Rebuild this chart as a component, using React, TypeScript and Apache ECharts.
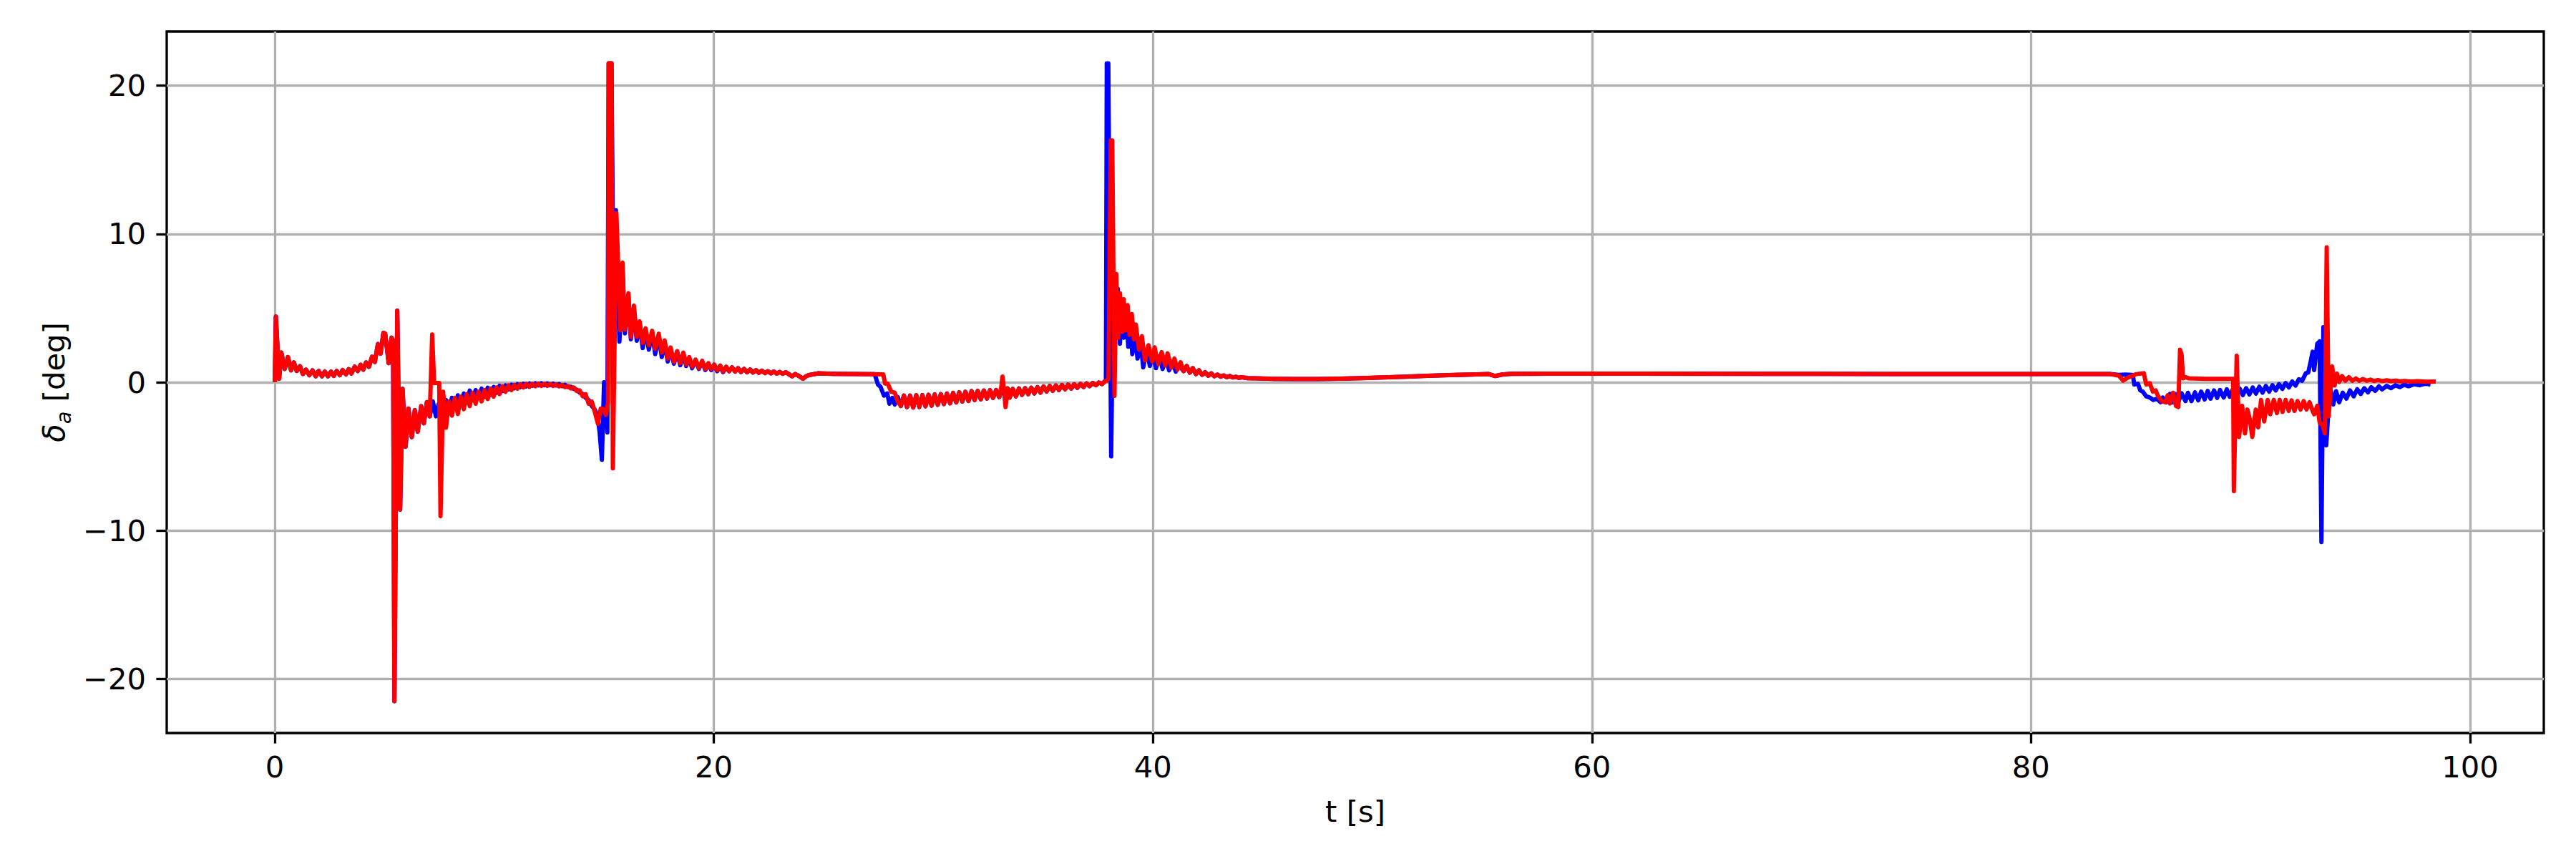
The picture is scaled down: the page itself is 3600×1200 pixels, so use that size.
import React, { useEffect, useRef } from "react";
import * as echarts from "echarts";

// ---- axis ticks / ranges ----
const xTicks = [0, 20, 40, 60, 80, 100];
const yTicks = [-20, -10, 0, 10, 20];
const xRange = [-4.922, 103.36];
const yRange = [-23.65, 23.65];

// ---- data segments: [t (s), delta_a (deg)] ----
// identical for both signals
const sharedStart: number[][] = [
  [0, 0], [0.05, 4.43], [0.2, 0.24], [0.3, 2.0], [0.45, 0.9], [0.6, 1.7], [0.74, 0.8], [0.87, 1.34],
  [1.0, 0.76], [1.15, 1.08], [1.28, 0.56], [1.42, 0.85], [1.57, 0.48], [1.72, 0.8], [1.86, 0.4],
  [2.0, 0.76], [2.15, 0.4], [2.28, 0.72], [2.42, 0.4], [2.56, 0.72], [2.69, 0.43], [2.82, 0.76],
  [2.96, 0.48], [3.09, 0.82], [3.24, 0.53], [3.37, 0.89], [3.49, 0.6], [3.64, 1.05], [3.78, 0.76],
  [3.91, 1.18], [4.03, 0.85], [4.16, 1.34], [4.29, 1.05], [4.43, 1.72], [4.56, 1.37], [4.7, 2.58],
  [4.82, 1.93], [4.95, 3.33], [5.03, 3.27], [5.19, 1.29], [5.32, 3.0], [5.39, 2.8], [5.45, -21.5],
  [5.58, 4.83], [5.71, -8.58], [5.82, -0.45], [5.96, -4.35], [6.09, -1.77], [6.24, -3.7], [6.38, -1.88],
  [6.51, -3.33], [6.67, -1.61], [6.79, -2.77], [6.93, -1.34], [7.06, -2.3],
];

const redSeg2: number[][] = [
  [7.17, 3.22], [7.26, -0.05], [7.49, -0.05], [7.55, -9.02], [7.67, -0.64], [7.8, -3.06], [7.93, -1.29],
  [8.07, -2.25], [8.2, -1.05], [8.34, -2.14], [8.47, -0.97], [8.61, -1.82], [8.74, -0.8], [8.88, -1.61],
  [9.01, -0.72], [9.15, -1.45], [9.28, -0.64], [9.42, -1.29], [9.55, -0.53], [9.7, -1.13], [9.83, -0.43],
  [9.97, -0.97], [10.1, -0.35], [10.24, -0.8], [10.37, -0.27], [10.51, -0.64], [10.64, -0.21],
  [10.78, -0.53], [10.91, -0.18], [11.05, -0.43], [11.18, -0.14], [11.32, -0.35], [11.45, -0.11],
  [11.6, -0.31], [11.73, -0.1], [11.87, -0.27], [12.0, -0.09], [12.14, -0.25], [12.27, -0.1],
  [12.41, -0.24], [12.54, -0.11], [12.68, -0.25], [12.81, -0.14], [12.95, -0.28], [13.08, -0.18],
  [13.22, -0.33], [13.35, -0.25], [13.49, -0.42], [13.62, -0.35], [13.76, -0.6], [13.89, -0.55],
  [14.03, -0.95], [14.16, -0.8], [14.3, -1.45], [14.44, -1.3], [14.58, -2.0], [14.72, -2.8],
  [14.85, -1.77], [14.96, -1.8], [15.09, -2.2], [15.18, -1.4],
];

const blueSeg2: number[][] = [
  [7.2, -1.29], [7.34, -2.3], [7.47, -1.45], [7.63, -2.0], [7.8, -1.2], [7.93, -1.85], [8.07, -1.05],
  [8.2, -1.7], [8.34, -0.88], [8.47, -1.53], [8.61, -0.76], [8.75, -1.37], [8.88, -0.56], [9.01, -1.2],
  [9.15, -0.53], [9.28, -1.05], [9.42, -0.43], [9.55, -0.97], [9.7, -0.37], [9.83, -0.85], [9.97, -0.32],
  [10.1, -0.72], [10.24, -0.24], [10.37, -0.6], [10.51, -0.21], [10.64, -0.48], [10.78, -0.16],
  [10.91, -0.4], [11.05, -0.13], [11.18, -0.33], [11.32, -0.1], [11.45, -0.28], [11.6, -0.08],
  [11.73, -0.24], [11.87, -0.07], [12.0, -0.21], [12.14, -0.06], [12.27, -0.2], [12.41, -0.07],
  [12.54, -0.2], [12.68, -0.09], [12.81, -0.22], [12.95, -0.12], [13.08, -0.26], [13.22, -0.17],
  [13.35, -0.32], [13.49, -0.3], [13.62, -0.45], [13.76, -0.5], [13.89, -0.7], [14.03, -0.8],
  [14.16, -1.05], [14.3, -1.2], [14.44, -1.6], [14.58, -1.85], [14.69, -2.2], [14.8, -3.4],
  [14.9, -5.23], [15.0, 0], [15.15, -3.38],
];

const redSpike1: number[][] = [
  [15.21, 21.5], [15.34, 21.5], [15.4, -5.8], [15.56, 11.4], [15.75, 3.5], [15.84, 8.06], [15.95, 3.55],
  [16.11, 6.0], [16.22, 3.06], [16.36, 5.16], [16.49, 3.06], [16.62, 4.1], [16.76, 2.66], [16.89, 3.63],
  [17.04, 2.5], [17.19, 3.47], [17.33, 2.26], [17.49, 3.27], [17.63, 2.0], [17.76, 2.82], [17.9, 1.6],
  [18.03, 2.34], [18.18, 1.37], [18.33, 2.1], [18.47, 1.29], [18.61, 2.0], [18.74, 1.2], [18.88, 1.7],
  [19.01, 1.05], [19.17, 1.53], [19.32, 0.97], [19.47, 1.45], [19.61, 0.89], [19.75, 1.29],
  [19.88, 0.89], [20.02, 1.2], [20.15, 0.8], [20.29, 1.13], [20.42, 0.73], [20.56, 1.05],
];

const blueSpike1: number[][] = [
  [15.21, 21.5], [15.34, 21.5], [15.44, 3.0], [15.54, 11.6], [15.7, 2.74], [15.84, 7.6], [15.95, 3.3],
  [16.11, 5.8], [16.22, 2.9], [16.36, 5.0], [16.49, 2.8], [16.62, 4.0], [16.76, 2.3], [16.89, 3.5],
  [17.04, 2.2], [17.19, 3.3], [17.33, 1.9], [17.49, 3.1], [17.63, 1.7], [17.76, 2.7], [17.9, 1.4],
  [18.03, 2.2], [18.18, 1.25], [18.33, 2.0], [18.47, 1.15], [18.61, 1.9], [18.74, 1.1], [18.88, 1.6],
  [19.01, 0.95], [19.17, 1.45], [19.32, 0.9], [19.47, 1.38], [19.61, 0.82], [19.75, 1.22],
  [19.88, 0.82], [20.02, 1.14], [20.15, 0.74], [20.29, 1.08], [20.42, 0.68], [20.56, 1.0],
];

const sharedDecay1: number[][] = [
  [20.7, 0.75], [20.83, 1.0], [20.97, 0.72], [21.1, 0.95], [21.24, 0.7], [21.38, 0.9], [21.51, 0.68],
  [21.65, 0.86], [21.78, 0.66], [21.92, 0.82], [22.05, 0.64], [22.19, 0.78], [22.33, 0.62], [22.46, 0.75],
  [22.6, 0.6], [22.73, 0.72], [22.87, 0.58], [23.0, 0.7], [23.14, 0.57], [23.28, 0.68], [23.41, 0.55],
  [23.57, 0.4], [23.7, 0.55], [23.85, 0.45], [24.06, 0.24], [24.2, 0.4], [24.33, 0.48], [24.77, 0.6],
  [25.4, 0.57], [26.5, 0.55], [27.3, 0.54],
];

const redStep1: number[][] = [
  [27.72, 0.53], [27.8, -0.08], [27.92, -0.1], [28.08, -0.63], [28.24, -0.71], [28.38, -1.3],
];

const blueStep1: number[][] = [
  [27.33, 0.54], [27.48, -0.16], [27.59, -0.3], [27.75, -0.9], [27.9, -0.75], [28.0, -1.45],
  [28.13, -1.05], [28.24, -1.5], [28.38, -1.0],
];

const sharedOsc1: number[][] = [
  [28.52, -1.6], [28.66, -0.9], [28.8, -1.67], [28.94, -0.9], [29.08, -1.7], [29.22, -0.88],
  [29.36, -1.67], [29.5, -0.87], [29.64, -1.62], [29.78, -0.85], [29.92, -1.58], [30.06, -0.82],
  [30.2, -1.52], [30.34, -0.8], [30.48, -1.47], [30.62, -0.76], [30.76, -1.42], [30.9, -0.72],
  [31.04, -1.36], [31.18, -0.68], [31.32, -1.3], [31.46, -0.64], [31.6, -1.26], [31.74, -0.6],
  [31.88, -1.2], [32.02, -0.58], [32.16, -1.15], [32.3, -0.56], [32.44, -1.1], [32.58, -0.54],
  [32.72, -1.05], [32.86, -0.52], [33.0, -1.0],
];

const redBlip: number[][] = [
  [33.08, -0.5], [33.15, 0.39], [33.22, -0.6], [33.29, -1.67], [33.38, -0.4], [33.48, -1.05],
];

const blueBlip: number[][] = [
  [33.14, -0.5], [33.28, -0.98], [33.42, -0.47], [33.52, -0.9],
];

const sharedOsc2: number[][] = [
  [33.62, -0.45], [33.76, -0.95], [33.9, -0.42], [34.04, -0.85], [34.18, -0.4], [34.32, -0.8],
  [34.46, -0.37], [34.6, -0.75], [34.74, -0.33], [34.88, -0.7], [35.02, -0.28], [35.16, -0.62],
  [35.3, -0.25], [35.44, -0.57], [35.58, -0.22], [35.72, -0.52], [35.86, -0.19], [36.0, -0.47],
  [36.14, -0.17], [36.28, -0.42], [36.42, -0.14], [36.56, -0.37], [36.7, -0.11], [36.84, -0.32],
  [36.98, -0.08], [37.12, -0.26], [37.26, -0.05], [37.4, -0.2], [37.54, -0.02], [37.68, -0.12],
  [37.8, 0.05],
];

const redSpike2: number[][] = [
  [37.9, 0.1], [37.98, 0.3], [38.08, 16.3], [38.15, 16.3], [38.25, -0.92], [38.33, 7.3], [38.42, 3.0],
  [38.5, 6.0], [38.6, 3.4], [38.67, 5.6], [38.76, 3.5], [38.85, 5.2], [38.94, 3.2], [39.04, 4.6],
  [39.14, 2.9], [39.22, 3.9], [39.37, 2.2], [39.5, 3.1], [39.64, 1.47], [39.8, 2.5], [39.97, 1.4],
  [40.08, 2.35], [40.24, 1.22], [40.4, 2.03], [40.56, 1.14], [40.67, 1.95], [40.84, 0.98], [40.98, 1.6],
  [41.12, 0.85], [41.26, 1.35],
];

const blueSpike2: number[][] = [
  [37.86, 0.1], [37.9, 21.5], [37.97, 21.5], [38.1, -5.0], [38.2, 7.2], [38.3, 4.5], [38.4, 6.3],
  [38.5, 2.6], [38.58, 5.5], [38.68, 3.0], [38.78, 4.9], [38.88, 2.4], [38.96, 4.3], [39.06, 1.9],
  [39.18, 3.3], [39.3, 1.6], [39.45, 2.6], [39.56, 1.0], [39.72, 2.2], [39.86, 1.1], [40.0, 2.0],
  [40.14, 0.95], [40.3, 1.75], [40.44, 0.9], [40.6, 1.55], [40.74, 0.8], [40.9, 1.35], [41.04, 0.72],
  [41.18, 1.15],
];

const sharedMiddle: number[][] = [
  [41.4, 0.75], [41.54, 1.1], [41.68, 0.65], [41.82, 0.95], [41.96, 0.55], [42.1, 0.8], [42.24, 0.5],
  [42.38, 0.68], [42.52, 0.44], [42.66, 0.6], [42.8, 0.4], [42.94, 0.52], [43.08, 0.38], [43.22, 0.46],
  [43.36, 0.34], [43.5, 0.42], [43.64, 0.32], [43.78, 0.37], [43.92, 0.3], [44.06, 0.34], [44.3, 0.28],
  [44.7, 0.26], [45.5, 0.23], [46.5, 0.22], [47.5, 0.22], [48.5, 0.24], [49.5, 0.28], [50.5, 0.33],
  [51.5, 0.38], [52.5, 0.43], [53.5, 0.48], [54.5, 0.52], [55.3, 0.55], [55.6, 0.42], [55.9, 0.52],
  [56.3, 0.57], [58, 0.58], [62, 0.58], [68, 0.57], [74, 0.56], [80, 0.56], [83.62, 0.55],
];

const redEnd: number[][] = [
  [84.0, 0.45], [84.2, 0.1], [84.38, 0.29], [84.6, 0.42], [84.8, 0.55], [85.14, 0.61], [85.25, -0.15],
  [85.41, -0.06], [85.55, -0.63], [85.68, -0.55], [85.79, -0.95], [85.96, -1.27], [86.12, -1.35],
  [86.23, -0.87], [86.33, -1.43], [86.47, -0.71], [86.6, -1.59], [86.71, -1.67], [86.79, 2.19],
  [86.86, 1.87], [86.93, 0.26], [87.04, 0.34], [87.2, 0.26], [87.96, 0.23], [89.21, 0.23],
  [89.24, -7.34], [89.37, 1.79], [89.48, -3.69], [89.62, -1.59], [89.75, -3.45], [89.86, -1.84],
  [89.97, -2.5], [90.08, -3.69], [90.24, -1.84], [90.35, -3.04], [90.48, -1.19], [90.62, -2.64],
  [90.78, -1.19], [90.9, -2.16], [91.06, -1.19], [91.2, -2.08], [91.33, -1.19], [91.46, -2.0],
  [91.6, -1.19], [91.74, -1.93], [91.87, -1.22], [92.0, -1.93], [92.14, -1.27], [92.28, -1.84],
  [92.42, -1.27], [92.55, -1.84], [92.69, -1.35], [92.83, -1.93], [92.9, -2.16], [93.04, -1.59],
  [93.15, -2.72], [93.28, -2.88], [93.39, -3.45], [93.47, 9.1], [93.56, -2.3], [93.72, 1.06],
  [93.83, -0.22], [93.94, 0.58], [94.04, 0.02], [94.17, 0.42], [94.32, 0.1], [94.48, 0.34],
  [94.64, 0.1], [94.8, 0.26], [94.96, 0.1], [95.12, 0.22], [95.3, 0.1], [95.46, 0.18], [95.62, 0.08],
  [95.8, 0.15], [96.0, 0.08], [96.2, 0.13], [96.4, 0.07], [96.6, 0.11], [96.8, 0.06], [97.0, 0.09],
  [97.3, 0.05], [97.6, 0.07], [98.0, 0.04], [98.44, 0.05],
];

const blueEnd: number[][] = [
  [84.0, 0.5], [84.3, 0.52], [84.6, 0.5], [84.65, 0.42], [84.7, -0.15], [84.87, -0.1], [84.98, -0.55],
  [85.09, -0.63], [85.25, -0.95], [85.41, -1.03], [85.57, -1.19], [85.74, -1.11], [85.9, -1.35],
  [86.0, -1.03], [86.17, -1.35], [86.33, -0.79], [86.44, -1.35], [86.57, -0.79], [86.71, -1.35],
  [86.86, -0.74], [87.04, -1.27], [87.15, -0.71], [87.31, -1.27], [87.47, -0.68], [87.62, -1.22],
  [87.75, -0.63], [87.91, -1.16], [88.05, -0.58], [88.18, -1.11], [88.34, -0.55], [88.48, -1.06],
  [88.61, -0.52], [88.78, -1.03], [88.92, -0.47], [89.05, -0.98], [89.21, -0.42], [89.35, -0.9],
  [89.5, -0.42], [89.65, -0.87], [89.8, -0.4], [89.95, -0.82], [90.1, -0.35], [90.25, -0.76],
  [90.4, -0.3], [90.55, -0.7], [90.7, -0.25], [90.85, -0.63], [91.0, -0.2], [91.15, -0.55],
  [91.3, -0.13], [91.45, -0.45], [91.6, -0.05], [91.75, -0.35], [91.9, 0.05], [92.05, -0.22],
  [92.2, 0.2], [92.35, 0.1], [92.52, 0.61], [92.63, 0.66], [92.74, 1.39], [92.83, 2.06], [92.9, 0.82],
  [93.04, 2.6], [93.15, 2.75], [93.23, -10.77], [93.32, 3.72], [93.45, -4.25], [93.55, -1.84],
  [93.66, -0.55], [93.77, -1.5], [93.9, -0.6], [94.04, -1.35], [94.2, -0.7], [94.37, -1.1],
  [94.53, -0.55], [94.7, -0.95], [94.86, -0.47], [95.02, -0.79], [95.18, -0.4], [95.35, -0.68],
  [95.5, -0.33], [95.68, -0.58], [95.85, -0.28], [96.0, -0.48], [96.2, -0.24], [96.4, -0.4],
  [96.6, -0.2], [96.8, -0.33], [97.0, -0.16], [97.2, -0.27], [97.45, -0.13], [97.7, -0.2],
  [97.95, -0.1], [98.2, -0.15],
];

const blueSeries = [
  ...sharedStart, ...blueSeg2, ...blueSpike1, ...sharedDecay1, ...blueStep1, ...sharedOsc1,
  ...blueBlip, ...sharedOsc2, ...blueSpike2, ...sharedMiddle, ...blueEnd,
];
const redSeries = [
  ...sharedStart, ...redSeg2, ...redSpike1, ...sharedDecay1, ...redStep1, ...sharedOsc1,
  ...redBlip, ...sharedOsc2, ...redSpike2, ...sharedMiddle, ...redEnd,
];

const FONT = "DejaVu Sans";
const FS = 41.7;
const LW = 3.33;

const fmt = (v: number) => String(v).replace("-", "\u2212");

export default function App() {
  const ref = useRef<HTMLDivElement>(null);
  useEffect(() => {
    document.body.style.margin = "0";
    const chart = echarts.init(ref.current!, null, { renderer: "svg" });
    chart.setOption({
      animation: false,
      backgroundColor: "#ffffff",
      textStyle: { fontFamily: FONT, color: "#000" },
      grid: {
        left: 233,
        top: 44,
        width: 3322,
        height: 980,
        show: true,
        borderColor: "#000",
        borderWidth: LW,
        backgroundColor: "transparent",
      },
      xAxis: {
        type: "value",
        min: xRange[0],
        max: xRange[1],
        axisLine: { show: false, onZero: false },
        axisTick: {
          show: true,
          customValues: xTicks,
          length: 14.6,
          inside: false,
          lineStyle: { color: "#000", width: LW },
        },
        axisLabel: {
          customValues: xTicks,
          formatter: fmt,
          fontSize: FS,
          fontFamily: FONT,
          color: "#000",
          margin: 26,
        },
        splitLine: { show: true, lineStyle: { color: "#b0b0b0", width: LW } },
        name: "t [s]",
        nameLocation: "middle",
        nameGap: 88,
        nameTextStyle: { fontSize: FS, fontFamily: FONT, color: "#000" },
      },
      yAxis: {
        type: "value",
        min: yRange[0],
        max: yRange[1],
        axisLine: { show: false, onZero: false },
        axisTick: {
          show: true,
          customValues: yTicks,
          length: 14.6,
          inside: false,
          lineStyle: { color: "#000", width: LW },
        },
        axisLabel: {
          customValues: yTicks,
          formatter: fmt,
          fontSize: FS,
          fontFamily: FONT,
          color: "#000",
          margin: 29,
        },
        splitLine: { show: true, lineStyle: { color: "#b0b0b0", width: LW } },
        name: "{g|δ}{s|a}{n| [deg]}",
        nameLocation: "middle",
        nameRotate: 90,
        nameGap: 135,
        nameTextStyle: {
          fontSize: FS,
          fontFamily: FONT,
          color: "#000",
          rich: {
            g: { fontSize: FS, fontFamily: FONT, fontStyle: "italic", color: "#000", verticalAlign: "top", lineHeight: 44 },
            s: { fontSize: 29, fontFamily: FONT, fontStyle: "italic", color: "#000", verticalAlign: "top", lineHeight: 30, padding: [20, 0, 0, 0] },
            n: { fontSize: FS, fontFamily: FONT, color: "#000", verticalAlign: "top", lineHeight: 44 },
          },
        },
      },
      series: [
        {
          type: "line",
          data: blueSeries,
          showSymbol: false,
          symbol: "none",
          lineStyle: { color: "#0000ff", width: 6, join: "round" },
          itemStyle: { color: "#0000ff" },
          z: 2,
        },
        {
          type: "line",
          data: redSeries,
          showSymbol: false,
          symbol: "none",
          lineStyle: { color: "#ff0000", width: 6, join: "round" },
          itemStyle: { color: "#ff0000" },
          z: 3,
        },
      ],
    });
    return () => chart.dispose();
  }, []);
  return <div ref={ref} style={{ width: 3600, height: 1200 }} />;
}
